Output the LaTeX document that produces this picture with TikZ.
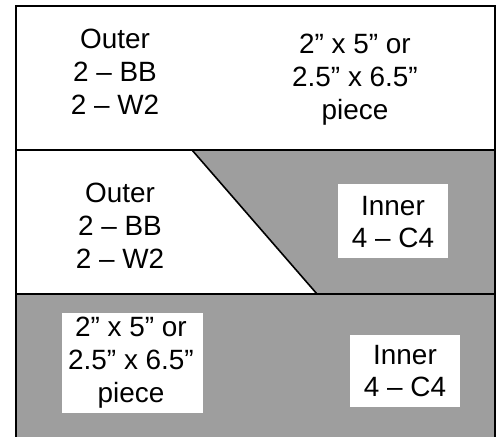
\documentclass[tikz,border=0pt]{standalone}
\usepackage{fontspec}
\setmainfont{Liberation Sans}
\begin{document}
\begin{tikzpicture}[x=1bp,y=-1bp,
  lbl/.style={align=center,font=\fontsize{28}{33}\selectfont,inner sep=0pt},
  wbox/.style={fill=white,inner sep=0pt},
  border/.style={line width=1.6bp,black},
  shade/.style={fill=black!38}]
\useasboundingbox (0,0) rectangle (501,437);
% shaded regions
\fill[shade] (192,150) -- (495,150) -- (495,294) -- (317,294) -- cycle;
\fill[shade] (16,294) rectangle (495,437);
% white label boxes
\node[wbox,minimum width=110bp,minimum height=73bp] (b1) at (393,221) {};
\node[wbox,minimum width=141bp,minimum height=100bp] (b2) at (132,363) {};
\node[wbox,minimum width=110bp,minimum height=72bp] (b3) at (405,371) {};
% lines
\draw[border] (16,437) -- (16,6) -- (495,6) -- (495,437);
\draw[border] (16,150) -- (495,150);
\draw[border] (16,294) -- (495,294);
\draw[border] (192,150) -- (317,294);
% texts
\node[lbl] (t1) at (115,72) {Outer\\2 – BB\\2 – W2};
\node[lbl] (t2) at (355,80) {2” x 5” or\\2.5” x 6.5”\\piece};
\node[lbl] (t3) at (120,226) {Outer\\2 – BB\\2 – W2};
\node[lbl] (t4) at (393,222) {Inner\\4 – C4};
\node[lbl] (t5) at (131,363) {2” x 5” or\\2.5” x 6.5”\\piece};
\node[lbl] (t6) at (405,371) {Inner\\4 – C4};
\end{tikzpicture}
\end{document}
